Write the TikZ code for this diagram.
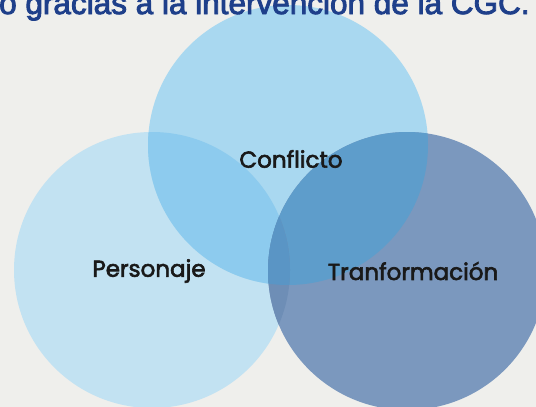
\documentclass[tikz,border=0pt]{standalone}
\usepackage{fontspec}
\setmainfont{Liberation Sans}
\newfontfamily\titlefont{Liberation Sans}
\newfontfamily\labelfont{Poppins}
\newcommand\heavytext[2]{\special{pdf:literal direct 2 Tr #1 w}#2\special{pdf:literal direct 0 Tr}}
\definecolor{bgc}{HTML}{EFEFEC}
\definecolor{cleft}{HTML}{C2E2F2}
\definecolor{ctop}{HTML}{A9D8F0}
\definecolor{cright}{HTML}{7B98BE}
\definecolor{clt}{HTML}{8DCBEE}
\definecolor{ctr}{HTML}{5E9DCB}
\definecolor{clr}{HTML}{6E8EB6}
\definecolor{call}{HTML}{5A95C5}
\definecolor{titleblue}{HTML}{1E3F8A}
\begin{document}
\begin{tikzpicture}[x=1pt,y=-1pt,
  lbl/.style={font=\labelfont\fontsize{23}{26}\selectfont, text=black!90, inner sep=0pt},
  ttl/.style={font=\titlefont\fontsize{31.5}{34}\selectfont, text=titleblue, inner sep=0pt, anchor=base west}]
\fill[bgc] (0,0) rectangle (536,407);
\useasboundingbox (0,0) rectangle (536,407);
\def\Lc{(152,270) circle[radius=138]}
\def\Tc{(288,145) circle[radius=140]}
\def\Rc{(407,271) circle[radius=139]}
\fill[cleft] \Lc;
\fill[ctop] \Tc;
\fill[cright] \Rc;
\begin{scope}\clip \Lc; \fill[clt] \Tc; \end{scope}
\begin{scope}\clip \Tc; \fill[ctr] \Rc; \end{scope}
\begin{scope}\clip \Lc; \fill[clr] \Rc; \end{scope}
\begin{scope}\clip \Lc; \clip \Tc; \fill[call] \Rc; \end{scope}
\node[ttl] (title) at (-1,14) {\heavytext{0.9}{o gracias a la intervención de la CGC.}};
\node[lbl] (conf) at (291,159) {\heavytext{0.6}{Conflicto}};
\node[lbl] (pers) at (149,271) {\heavytext{0.6}{Personaje}};
\node[lbl] (tran) at (413,271) {\heavytext{0.6}{Tranformación}};
\end{tikzpicture}
\end{document}
